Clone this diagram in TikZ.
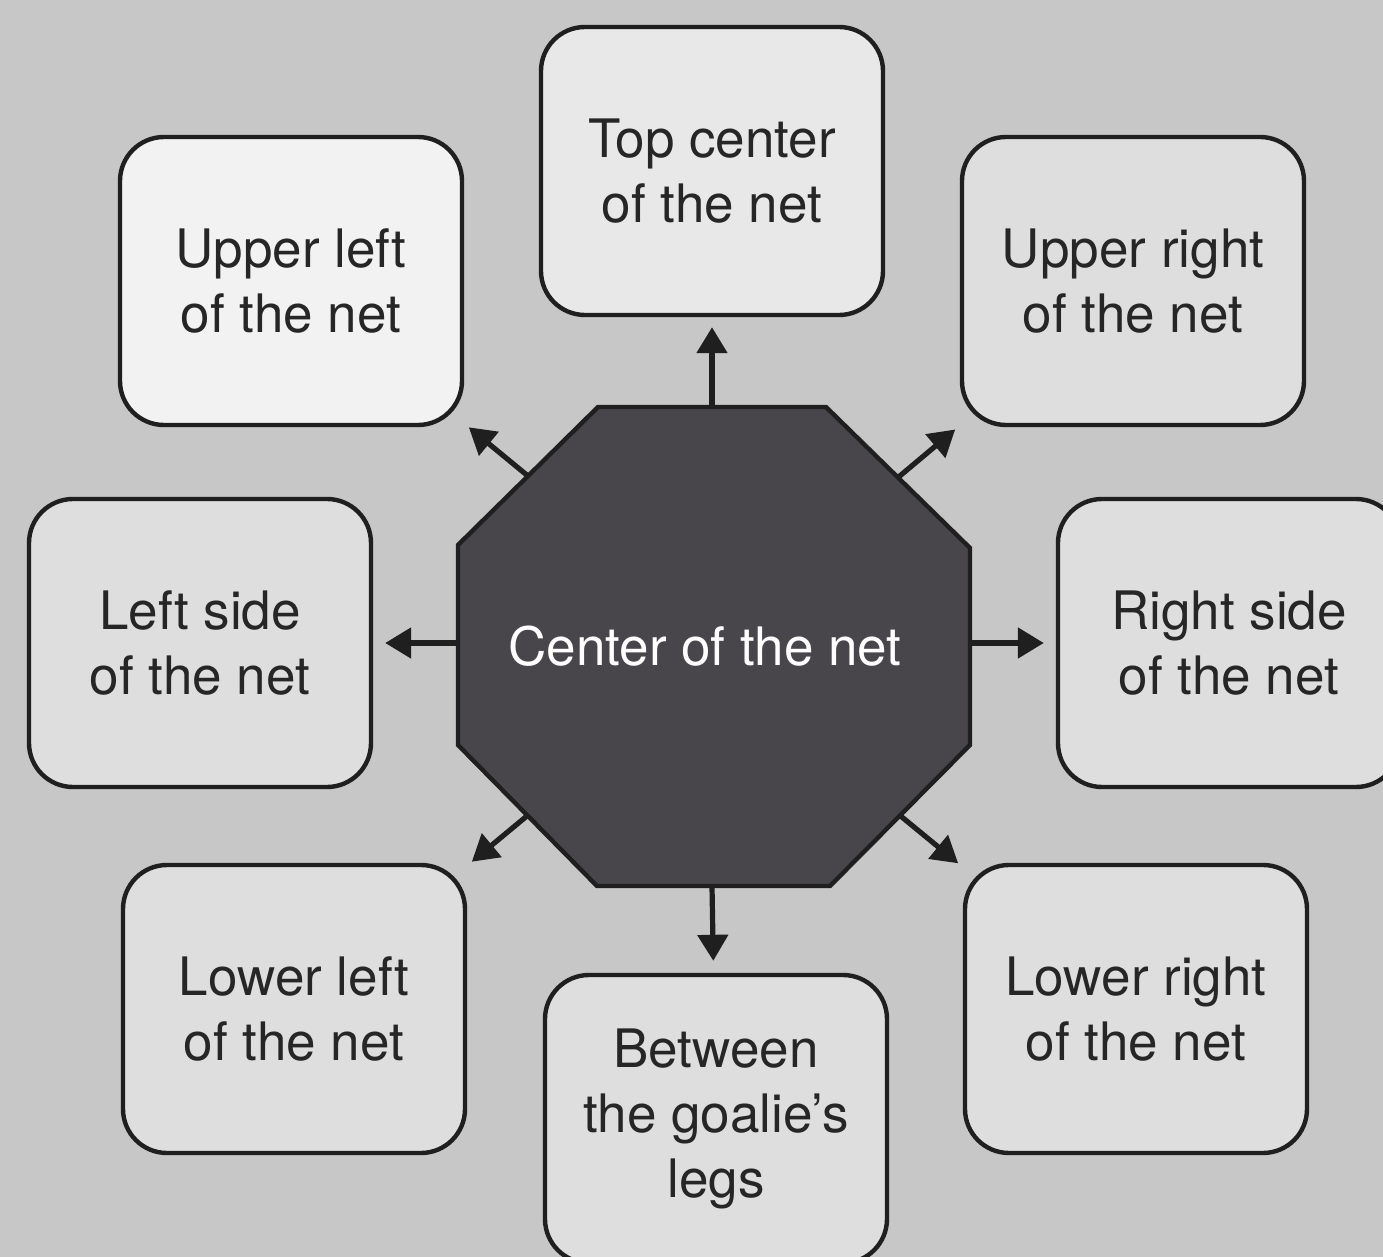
\documentclass[tikz,border=0pt]{standalone}
\usepackage{fontspec}
\setmainfont{TeX Gyre Heros}
\usetikzlibrary{arrows.meta,calc}

\definecolor{bggray}{gray}{0.78}
\definecolor{boxfill}{gray}{0.87}
\definecolor{boxlight}{gray}{0.95}
\definecolor{boxmid}{gray}{0.91}
\definecolor{octfill}{RGB}{72,70,75}
\definecolor{inkline}{gray}{0.12}
\definecolor{inktext}{gray}{0.15}

\tikzset{
  choicebox/.style={draw=inkline, line width=2.2pt, rounded corners=22pt,
    fill=boxfill, minimum width=171pt, minimum height=144pt,
    align=center, inner sep=0pt, text=inktext,
    font=\fontsize{26.5}{32.5}\selectfont},
  octline/.style={draw=inkline, line width=2.2pt, fill=octfill},
  arr/.style={draw=inkline, line width=2.6pt,
    -{Triangle[width=15pt,length=13pt]}},
}

\begin{document}
\begin{tikzpicture}[x=0.5pt,y=-0.5pt]
  % page and background
  \fill[bggray] (0,0) rectangle (1383,1257);
  \useasboundingbox (0,0) rectangle (1383,1257);

  % the eight target boxes
  \node[choicebox, fill=boxmid]   (top) at (712,171)  {Top center\\of the net};
  \node[choicebox, fill=boxlight] (ul)  at (291,281)  {Upper left\\of the net};
  \node[choicebox]                (ur)  at (1133,281) {Upper right\\of the net};
  \node[choicebox]                (lf)  at (200,643)  {Left side\\of the net};
  \node[choicebox]                (rt)  at (1229,643) {Right side\\of the net};
  \node[choicebox]                (ll)  at (294,1009) {Lower left\\of the net};
  \node[choicebox]                (lr)  at (1136,1009){Lower right\\of the net};
  \node[choicebox]                (bot) at (716,1119) {Between\\the goalie’s\\legs};

  % central octagon
  \draw[octline] (598,407) coordinate (v1) -- (826,407) coordinate (v2)
    -- (970,548) coordinate (v3) -- (970,745) coordinate (v4)
    -- (830,886) coordinate (v5) -- (597,886) coordinate (v6)
    -- (458,745) coordinate (v7) -- (458,545) coordinate (v8) -- cycle;
  \node[text=white, font=\fontsize{26.5}{32.5}\selectfont] (oct) at (705,646) {Center of the net};

  % arrow starting points on the octagon edges
  \coordinate (s-t)  at (712,407);
  \coordinate (s-b)  at (712,886);
  \coordinate (s-l)  at (458,643);
  \coordinate (s-r)  at (970,643);
  \coordinate (s-ul) at ($(v8)!0.5!(v1)$);
  \coordinate (s-ur) at ($(v2)!0.5!(v3)$);
  \coordinate (s-lr) at ($(v4)!0.5!(v5)$);
  \coordinate (s-ll) at ($(v6)!0.5!(v7)$);

  % arrows
  \draw[arr, shorten >=5pt] (s-t)  -- (top);
  \draw[arr, shorten >=6pt] (s-b)  -- (bot);
  \draw[arr, shorten >=6pt] (s-l)  -- (lf);
  \draw[arr, shorten >=6pt] (s-r)  -- (rt);
  \draw[arr, shorten >=3pt] (s-ul) -- (ul);
  \draw[arr, shorten >=3pt] (s-ur) -- (ur);
  \draw[arr, shorten >=3pt] (s-ll) -- (ll);
  \draw[arr, shorten >=3pt] (s-lr) -- (lr);
\end{tikzpicture}
\end{document}
